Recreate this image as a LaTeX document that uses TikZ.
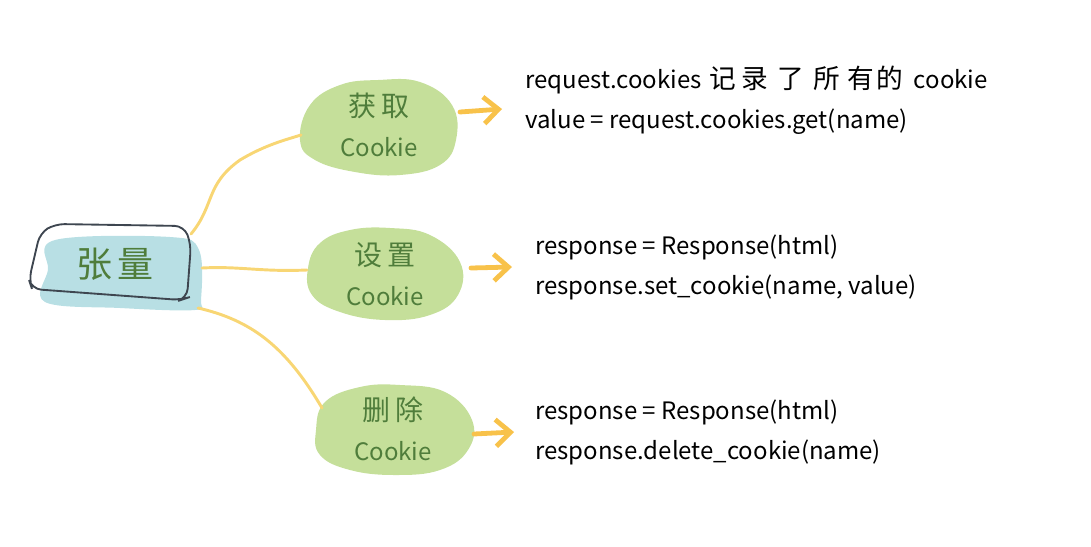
\documentclass[tikz,border=0pt]{standalone}
\usepackage{fontspec}
\setmainfont{Noto Sans CJK SC}
\usetikzlibrary{arrows.meta}
\definecolor{blobgreen}{HTML}{C5DF9A}
\definecolor{blobblue}{HTML}{B8DFE4}
\definecolor{txtgreen}{HTML}{4F7D3B}
\definecolor{linkyel}{HTML}{F8D674}
\definecolor{arrowyel}{HTML}{F8C24A}
\definecolor{outline}{HTML}{3E4650}
\tikzset{
  link/.style={draw=linkyel, line width=2.2pt, line cap=round},
  pointer/.style={draw=arrowyel, line width=3.6pt, line cap=round, -{Straight Barb[length=11pt,width=20pt,line width=3.6pt]}},
  topic/.style={text=txtgreen, font=\fontsize{18}{30}\selectfont, align=center, inner sep=0pt},
  code/.style={text=black, font=\fontsize{18}{30}\selectfont, align=left, anchor=north west, inner sep=0pt},
}
\newcommand{\zh}[1]{{\fontsize{21}{30}\selectfont #1}}
\newcommand{\zhc}[1]{{\fontsize{20}{30}\selectfont #1}}
\begin{document}
\begin{tikzpicture}[x=0.75pt,y=-0.75pt]
\useasboundingbox (0,0) rectangle (1091,546);
% root
\fill[blobblue] plot[smooth cycle, tension=0.6] coordinates {(55,240) (170,237) (199,250) (201,300) (195,310) (120,308) (45,302) (48,270)};
\draw[outline, line width=1.4pt, rounded corners=7pt] (55,224) -- (184,226) -- (191,244) -- (187,298) -- (181,300) -- (32,289) -- (29,280) -- (40,233) -- cycle;
\node[text=txtgreen, font=\fontsize{27}{30}\selectfont] (root) at (115,264) {张\,量};
% blobs
\fill[blobgreen] plot[smooth cycle, tension=0.7] coordinates {(300,140) (310,105) (340,85) (378,80) (420,82) (452,105) (456,140) (440,165) (400,175) (355,172) (315,160)};
\fill[blobgreen] plot[smooth cycle, tension=0.7] coordinates {(308,268) (320,243) (350,230) (390,228) (430,235) (460,262) (458,295) (430,315) (385,320) (340,312) (312,295)};
\fill[blobgreen] plot[smooth cycle, tension=0.7] coordinates {(316,430) (325,402) (360,387) (400,385) (445,392) (472,420) (468,450) (440,470) (395,475) (350,470) (320,455)};
\node[topic] (t1) at (379,125) {\zh{获\,取}\\Cookie};
\node[topic] (t2) at (385,274) {\zh{设\,置}\\Cookie};
\node[topic] (t3) at (393,429) {\zh{删\,除}\\Cookie};
% connectors
\coordinate (r1) at (191,234);
\coordinate (r2) at (202,268);
\coordinate (r3) at (198,308);
\coordinate (b1) at (301,135);
\coordinate (b2) at (307,270);
\coordinate (b3) at (322,408);
\draw[link] (r1) .. controls (215,205) and (205,185) .. (240,160) .. controls (265,145) and (285,140) .. (b1);
\draw[link] (r2) .. controls (240,266) and (260,272) .. (b2);
\draw[link] (r3) .. controls (250,320) and (285,345) .. (b3);
% arrows
\coordinate (a1s) at (460,112); \coordinate (a1e) at (502,109);
\coordinate (a2s) at (471,268); \coordinate (a2e) at (512,267);
\coordinate (a3s) at (474,434); \coordinate (a3e) at (514,432);
\draw[pointer] (a1s) -- (a1e);
\draw[pointer] (a2s) -- (a2e);
\draw[pointer] (a3s) -- (a3e);
% code text
\node[code] (c1) at (525,66) {request.cookies\hspace{6pt}\zhc{记\hspace{4pt}录\hspace{7pt}了\hspace{7pt}所\hspace{5pt}有\hspace{2pt}的}\hspace{8pt}cookie\\value = request.cookies.get(name)};
\node[code] (c2) at (535,235) {response = Response(html)\\response.set\_cookie(name, value)};
\node[code] (c3) at (535,400) {response = Response(html)\\response.delete\_cookie(name)};
\end{tikzpicture}
\end{document}
